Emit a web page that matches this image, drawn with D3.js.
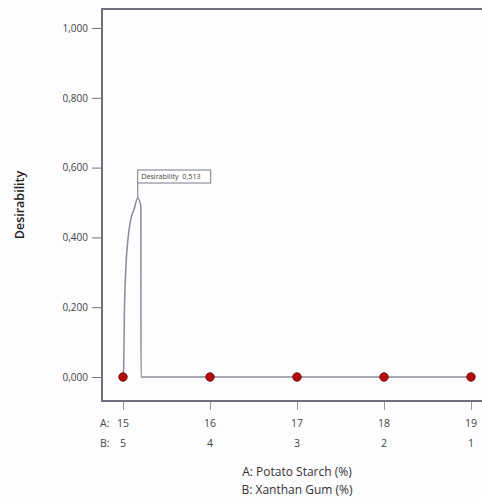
<!DOCTYPE html>
<html>
<head>
<meta charset="utf-8">
<script src="https://cdn.jsdelivr.net/npm/d3@7"></script>
<style>
  html, body { margin: 0; padding: 0; background: #fdfcfe; }
  svg { display: block; font-family: "Open Sans", "Noto Sans", sans-serif; }
</style>
</head>
<body>
<div id="chart"></div>
<script>
// tick values on the x axis (two factors, A goes up while B goes down)
var aTicks = [15, 16, 17, 18, 19];
var bTicks = [5, 4, 3, 2, 1];
var yTicks = [0, 0.2, 0.4, 0.6, 0.8, 1.0];

// desirability curve (A value, desirability)
var curveA = [15.000, 15.008, 15.015, 15.031, 15.054, 15.084, 15.130, 15.169, 15.205, 15.207, 19.000];
var curveD = [0.000, 0.027, 0.169, 0.302, 0.388, 0.445, 0.483, 0.513, 0.490, 0.000, 0.000];

// design points
var pointA = [15, 16, 17, 18, 19];
var pointD = [0, 0, 0, 0, 0];

var peakA = 15.169, peakD = 0.513;
var peakLabel = "Desirability  0,513";

var width = 482, height = 498;
var margin = {top: 9, right: 0, bottom: 98, left: 102};

var svg = d3.select("#chart")
  .append("svg")
  .attr("width", width)
  .attr("height", height);

// scales
var x = d3.scaleLinear().domain([15, 19]).range([123, 471]);
var y = d3.scaleLinear().domain([0, 1]).range([377, 28]);

var fmt = function(d){ return d3.format(".3f")(d).replace(".", ","); };

// frame (left, top, bottom)
svg.append("path")
  .attr("d", "M" + (width + 2) + "," + margin.top + "H" + margin.left + "V" + (height - margin.bottom + 1) + "H" + (width + 2))
  .attr("fill", "none")
  .attr("stroke", "#6f6f80")
  .attr("stroke-width", 2);

// y axis ticks and labels
var yAxis = svg.append("g")
  .attr("transform", "translate(" + margin.left + ",0)")
  .call(d3.axisLeft(y).tickValues(yTicks).tickFormat(fmt).tickSize(10).tickPadding(4));
yAxis.select(".domain").remove();
yAxis.selectAll("line").attr("stroke", "#777");
yAxis.selectAll("text")
  .attr("fill", "#444")
  .style("font-size", "10px")
  .style("font-family", "Open Sans, sans-serif");

// x axis ticks
var xAxis = svg.append("g")
  .attr("transform", "translate(0," + (height - margin.bottom + 2) + ")")
  .call(d3.axisBottom(x).tickValues(aTicks).tickSize(8).tickFormat(""));
xAxis.select(".domain").remove();
xAxis.selectAll("line").attr("stroke", "#999");

// two rows of tick labels
var labA = svg.append("g");
labA.selectAll("text")
  .data(aTicks)
  .enter().append("text")
  .attr("x", function(d){ return x(d); })
  .attr("y", 427)
  .attr("text-anchor", "middle")
  .attr("fill", "#444")
  .style("font-size", "10.5px")
  .text(function(d){ return d; });

var labB = svg.append("g");
labB.selectAll("text")
  .data(bTicks)
  .enter().append("text")
  .attr("x", function(d, i){ return x(aTicks[i]); })
  .attr("y", 447)
  .attr("text-anchor", "middle")
  .attr("fill", "#444")
  .style("font-size", "10.5px")
  .text(function(d){ return d; });

svg.append("text").attr("x", 100).attr("y", 427).attr("fill", "#444")
  .style("font-size", "10.5px").text("A:");
svg.append("text").attr("x", 100).attr("y", 447).attr("fill", "#444")
  .style("font-size", "10.5px").text("B:");

// axis titles
svg.append("text")
  .attr("x", 297).attr("y", 476)
  .attr("text-anchor", "middle")
  .attr("fill", "#333")
  .style("font-size", "12px")
  .text("A: Potato Starch (%)");
svg.append("text")
  .attr("x", 297).attr("y", 494)
  .attr("text-anchor", "middle")
  .attr("fill", "#333")
  .style("font-size", "12px")
  .text("B: Xanthan Gum (%)");

svg.append("text")
  .attr("transform", "translate(24,205)rotate(-90)")
  .attr("text-anchor", "middle")
  .attr("fill", "#222")
  .style("font-size", "12.5px")
  .style("font-weight", "600")
  .text("Desirability");

// desirability curve
var curve = curveA.map(function(a, i){ return [a, curveD[i]]; });
var line = d3.line()
  .x(function(d){ return x(d[0]); })
  .y(function(d){ return y(d[1]); })
  .curve(d3.curveMonotoneX);

svg.append("path")
  .datum(curve)
  .attr("d", line)
  .attr("fill", "none")
  .attr("stroke", "#8a8a9c")
  .attr("stroke-width", 1.5);

// peak flag
var boxTop = 170, boxH = 13, boxW = 73;
svg.append("line")
  .attr("x1", x(peakA)).attr("x2", x(peakA))
  .attr("y1", y(peakD)).attr("y2", boxTop + boxH)
  .attr("stroke", "#8a8a9c")
  .attr("stroke-width", 1.2);
svg.append("rect")
  .attr("x", x(peakA)).attr("y", boxTop)
  .attr("width", boxW).attr("height", boxH)
  .attr("fill", "#fff")
  .attr("stroke", "#7a7a8c")
  .attr("stroke-width", 1);
svg.append("text")
  .attr("x", x(peakA) + 3.5).attr("y", boxTop + 9.2)
  .attr("fill", "#444")
  .style("font-size", "7.2px")
  .style("white-space", "pre")
  .attr("xml:space", "preserve")
  .text(peakLabel);

// design points
svg.selectAll(".pt")
  .data(pointA)
  .enter().append("circle")
  .attr("class", "pt")
  .attr("cx", function(d){ return x(d); })
  .attr("cy", function(d, i){ return y(pointD[i]); })
  .attr("r", 4.2)
  .attr("fill", "#b30c0c")
  .attr("stroke", "#7a0a0a")
  .attr("stroke-width", 1);
</script>
</body>
</html>
